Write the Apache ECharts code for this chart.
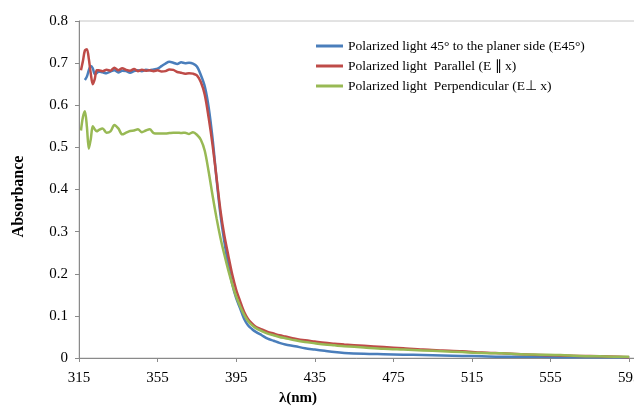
<!DOCTYPE html>
<html>
<head>
<meta charset="utf-8">
<script src="https://cdn.jsdelivr.net/npm/echarts@6/dist/echarts.min.js"></script>
<style>
  html, body { margin: 0; padding: 0; background: #fff; }
  #chart { width: 634px; height: 407px; }
</style>
</head>
<body>
<div id="chart"></div>
<script>
// wavelength (nm)
const wavelengths = [316, 317, 318, 319, 320, 321, 322, 323, 324, 325, 327, 329, 331, 333, 335, 337, 339, 341, 343, 345,
  347, 349, 351, 353, 355, 357, 359, 361, 363, 365, 367, 369, 371, 373, 375, 377, 379, 381, 383, 385,
  387, 389, 391, 393, 395, 397, 399, 401, 403, 405, 408, 411, 414, 417, 420, 425, 430, 435, 440, 445,
  450, 460, 470, 480, 490, 500, 510, 520, 530, 540, 550, 560, 570, 580, 590, 595]

// E45
const blueVals = [null, null, 0.660, 0.668, 0.683, 0.693, 0.688, 0.674, 0.676, 0.680, 0.678, 0.676, 0.680, 0.683, 0.678, 0.682, 0.681, 0.677, 0.681, 0.683,
  0.681, 0.684, 0.683, 0.685, 0.687, 0.693, 0.699, 0.703, 0.701, 0.698, 0.702, 0.700, 0.701, 0.699, 0.692, 0.672, 0.645, 0.595, 0.520, 0.425,
  0.340, 0.275, 0.220, 0.175, 0.142, 0.118, 0.093, 0.078, 0.069, 0.062, 0.054, 0.046, 0.041, 0.036, 0.032, 0.028, 0.023, 0.020, 0.017, 0.014,
  0.012, 0.010, 0.009, 0.008, 0.007, 0.006, 0.005, 0.004, 0.003, 0.003, 0.003, 0.002, 0.002, 0.002, 0.002, 0.002]

// E || x
const redVals = [0.683, 0.705, 0.730, 0.733, 0.710, 0.675, 0.650, 0.662, 0.683, 0.683, 0.681, 0.684, 0.682, 0.689, 0.683, 0.688, 0.684, 0.682, 0.686, 0.681,
  0.684, 0.682, 0.683, 0.681, 0.683, 0.680, 0.681, 0.685, 0.684, 0.679, 0.677, 0.675, 0.676, 0.675, 0.671, 0.655, 0.625, 0.570, 0.505, 0.428,
  0.350, 0.290, 0.243, 0.198, 0.162, 0.135, 0.110, 0.093, 0.082, 0.074, 0.068, 0.062, 0.058, 0.054, 0.051, 0.046, 0.042, 0.039, 0.036, 0.034,
  0.032, 0.029, 0.026, 0.023, 0.020, 0.018, 0.016, 0.013, 0.011, 0.009, 0.007, 0.006, 0.005, 0.004, 0.003, 0.002]

// E ⊥ x
const greenVals = [0.540, 0.572, 0.586, 0.550, 0.497, 0.520, 0.550, 0.543, 0.538, 0.541, 0.545, 0.535, 0.538, 0.553, 0.545, 0.531, 0.535, 0.539, 0.540, 0.543,
  0.536, 0.540, 0.543, 0.534, 0.533, 0.533, 0.533, 0.534, 0.535, 0.535, 0.534, 0.535, 0.532, 0.536, 0.530, 0.518, 0.492, 0.442, 0.385, 0.332,
  0.285, 0.245, 0.208, 0.175, 0.146, 0.123, 0.103, 0.088, 0.078, 0.071, 0.064, 0.058, 0.054, 0.050, 0.047, 0.042, 0.038, 0.035, 0.032, 0.030,
  0.028, 0.025, 0.022, 0.020, 0.018, 0.016, 0.014, 0.012, 0.011, 0.009, 0.008, 0.007, 0.005, 0.004, 0.003, 0.003]

const seriesNames = [
  'Polarized light 45° to the planer side (E45°)',
  'Polarized light  Parallel (E ∥ x)',
  'Polarized light  Perpendicular (E⊥ x)'
]
const colors = ['#4a7ebb', '#be4b48', '#98b954']

const font = '"Liberation Serif", "Times New Roman", serif'

const pairs = vals => wavelengths.map((w, i) => [w, vals[i]])

const chart = echarts.init(document.getElementById('chart'))
chart.setOption({
  animation: false,
  grid: {
    left: 79,
    right: -5,
    top: 21,
    bottom: 49,
    outerBoundsMode: 'none',
    containLabel: false,
    show: true,
    borderColor: '#c6c6c6',
    borderWidth: 1
  },
  legend: {
    orient: 'vertical',
    left: 311,
    top: 34,
    icon: 'rect',
    itemWidth: 27,
    itemHeight: 3,
    itemGap: 6,
    textStyle: {
      fontFamily: font,
      fontSize: 13.5,
      color: '#000',
      lineHeight: 14
    },
    data: seriesNames
  },
  xAxis: {
    type: 'value',
    min: 315,
    max: 600,
    interval: 40,
    name: 'λ(nm)',
    nameLocation: 'middle',
    nameGap: 28,
    nameTextStyle: {
      fontFamily: font,
      fontSize: 15,
      fontWeight: 'bold',
      color: '#000',
      padding: [0, 122, 0, 0]
    },
    axisLine: { lineStyle: { color: '#8a8a8a' } },
    axisTick: { show: true, length: 4, lineStyle: { color: '#8a8a8a' } },
    axisLabel: {
      fontFamily: font,
      fontSize: 15,
      color: '#000',
      margin: 13,
      showMaxLabel: false
    },
    splitLine: { show: false }
  },
  yAxis: {
    type: 'value',
    min: 0,
    max: 0.8,
    interval: 0.1,
    name: 'Absorbance',
    nameLocation: 'middle',
    nameRotate: 90,
    nameGap: 52,
    nameTextStyle: {
      fontFamily: font,
      fontSize: 16,
      fontWeight: 'bold',
      color: '#000',
      padding: [0, 14, 0, 0]
    },
    axisLine: { show: true, lineStyle: { color: '#8a8a8a' } },
    axisTick: { show: true, length: 4, lineStyle: { color: '#8a8a8a' } },
    axisLabel: {
      fontFamily: font,
      fontSize: 15,
      color: '#000',
      margin: 11
    },
    splitLine: { show: false }
  },
  series: [blueVals, redVals, greenVals].map((vals, i) => ({
    name: seriesNames[i],
    type: 'line',
    data: pairs(vals),
    showSymbol: false,
    symbol: 'none',
    smooth: 0.3,
    connectNulls: false,
    lineStyle: { width: 2.5, color: colors[i] },
    itemStyle: { color: colors[i] }
  }))
})
</script>
</body>
</html>
